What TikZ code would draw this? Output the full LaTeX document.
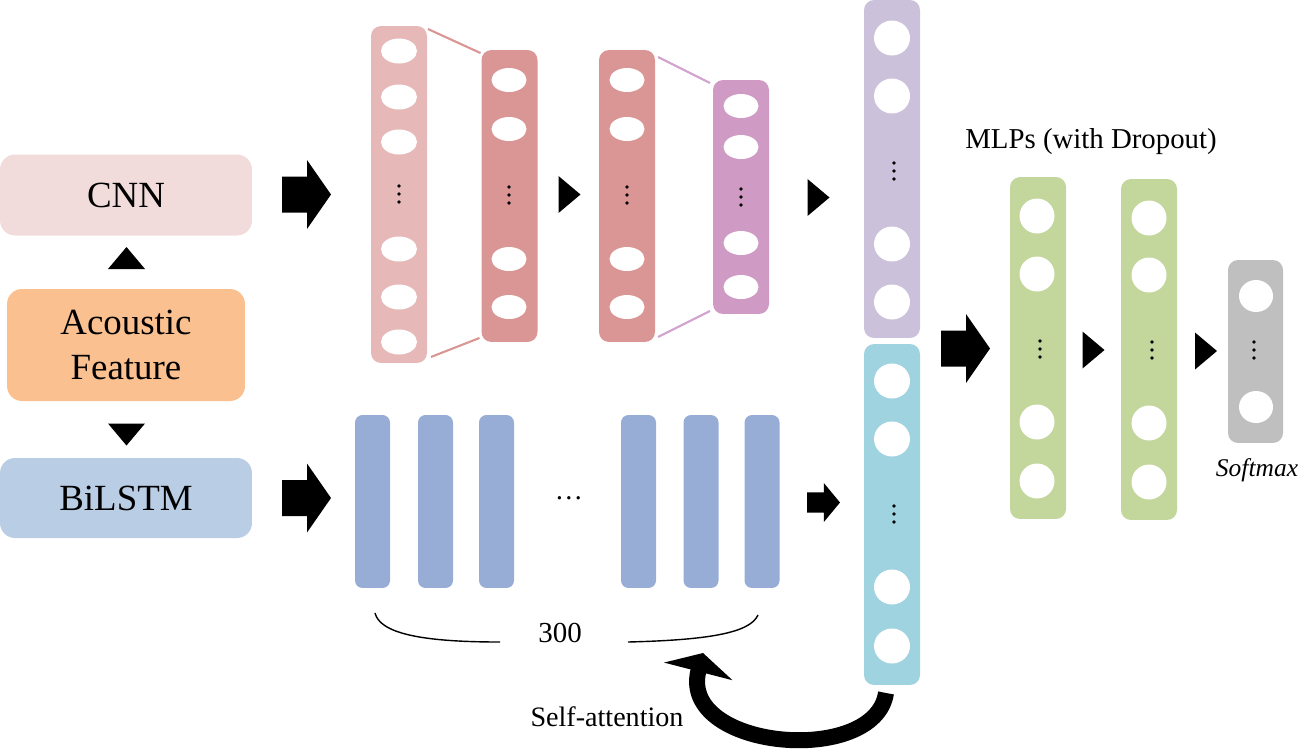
\documentclass[tikz,border=0pt]{standalone}
\usepackage{fontspec}
\setmainfont{Liberation Serif}
\usetikzlibrary{calc,positioning,arrows.meta,shapes.geometric}

\definecolor{cnnbox}{HTML}{F2DCDB}
\definecolor{featbox}{HTML}{FAC090}
\definecolor{lstmbox}{HTML}{B9CDE5}
\definecolor{convA}{HTML}{E6B9B8}
\definecolor{convB}{HTML}{D99694}
\definecolor{convC}{HTML}{CF9BC4}
\definecolor{linkC}{HTML}{D3A3CF}
\definecolor{catA}{HTML}{CCC1DA}
\definecolor{catB}{HTML}{A0D3E0}
\definecolor{lstmbar}{HTML}{97ADD6}
\definecolor{mlpbox}{HTML}{C3D69B}
\definecolor{smbox}{HTML}{BFBFBF}

\tikzset{
	pics/bigarrow/.style={code={\fill (-24.5,-18) -- (0.5,-18) -- (0.5,-34.5) -- (24.5,0) -- (0.5,34.5) -- (0.5,18) -- (-24.5,18) -- cycle;}},
	pics/tri/.style={code={\fill (-11,-18.5) -- (11,0) -- (-11,18.5) -- cycle;}},
	pics/vdots/.style={code={\foreach \k in {-1,0,1} \fill (0,8*\k) circle (1.05pt);}}
}

\begin{document}
\begin{tikzpicture}[x=0.02cm,y=-0.02cm,
	inbox/.style={rounded corners=0.3cm,inner sep=0pt,outer sep=0pt,align=center,font=\fontsize{21}{25.6}\selectfont},
	layer/.style={rounded corners=0.2cm,inner sep=0pt,outer sep=0pt,minimum width=1.12cm},
	unit/.style={ellipse,fill=white,inner sep=0pt,minimum width=0.72cm,minimum height=0.5cm},
	neuron/.style={ellipse,fill=white,inner sep=0pt,minimum width=0.72cm,minimum height=0.7cm},
	bar/.style={rounded corners=0.15cm,fill=lstmbar,inner sep=0pt,minimum width=0.7cm,minimum height=3.46cm}]
	\useasboundingbox (0,0) rectangle (1314,748);

	% input side
	\node[inbox,fill=cnnbox,minimum width=5.04cm,minimum height=1.62cm] (cnn) at (126,195) {CNN};
	\node[inbox,fill=featbox,minimum width=4.76cm,minimum height=2.24cm] (feat) at (126,345) {Acoustic\\Feature};
	\node[inbox,fill=lstmbox,minimum width=5.04cm,minimum height=1.6cm] (lstm) at (126,498) {BiLSTM};
	\pic[rotate=90] at (126.5,258) {tri};
	\pic[rotate=-90] at (126.5,434.5) {tri};
	\pic at (306.5,194.5) {bigarrow};
	\pic at (306.5,498) {bigarrow};

	% CNN layers
	\node[layer,fill=convA,minimum height=6.74cm] (l1) at (399,194.5) {};
	\node[layer,fill=convB,minimum height=5.84cm] (l2) at (509.5,196) {};
	\node[layer,fill=convB,minimum height=5.84cm] (l3) at (627,196) {};
	\node[layer,fill=convC,minimum height=4.68cm] (l4) at (741,197) {};
	\foreach \y [count=\i] in {51,97,142,249,297,342}
		\node[unit] (l1u\i) at (399,\y) {};
	\foreach \y [count=\i] in {80,129,259,307}
		\node[unit,minimum width=0.7cm,minimum height=0.48cm] (l2u\i) at (509,\y) {};
	\foreach \y [count=\i] in {80,129,259,307}
		\node[unit,minimum width=0.7cm,minimum height=0.48cm] (l3u\i) at (627,\y) {};
	\foreach \y [count=\i] in {106,147,243,287}
		\node[unit,minimum width=0.7cm,minimum height=0.48cm] (l4u\i) at (741,\y) {};
	\pic at (399,194) {vdots};
	\pic at (509,195) {vdots};
	\pic at (627,195) {vdots};
	\pic at (741,197) {vdots};
	\draw[convB,line width=1.2pt] ($(l1.north east)+(1,3)$) -- ($(l2.north west)+(-1,3)$);
	\draw[convB,line width=1.2pt] ($(l1.south east)+(4,-6)$) -- ($(l2.south west)+(-2,-4)$);
	\draw[linkC,line width=1.2pt] ($(l3.north east)+(3,7)$) -- ($(l4.north west)+(-3,3)$);
	\draw[linkC,line width=1.2pt] ($(l3.south east)+(3,-5)$) -- ($(l4.south west)+(-3,-3)$);
	\pic at (569.5,194.5) {tri};
	\pic at (818.5,197.5) {tri};

	% BiLSTM steps
	\foreach \x [count=\i] in {372.5,435.5,496.5,638.5,701,762}
		\node[bar] (b\i) at (\x,501.5) {};
	\node[font=\fontsize{16}{18}\selectfont] (gap) at (569,498) {\ldots};
	\pic[xscale=0.673,yscale=0.565] at (823.5,502.5) {bigarrow};
	\node[font=\fontsize{16.5}{18}\selectfont] (n300) at (560,633) {300};
	\coordinate (braceL) at (375,613);
	\coordinate (braceLm) at (500,642);
	\coordinate (braceRm) at (628,642);
	\coordinate (braceR) at (758,615);
	\draw[line width=0.8pt] (braceL) .. controls +(5,20) and +(-80,0) .. (braceLm);
	\draw[line width=0.8pt] (braceRm) .. controls +(80,-2) and +(-8,18) .. (braceR);

	% concatenated vector
	\node[layer,fill=catA,minimum height=6.76cm] (cat1) at (892,169) {};
	\node[layer,fill=catB,minimum height=6.82cm] (cat2) at (892,514.5) {};
	\foreach \y [count=\i] in {38,96,244,302}
		\node[neuron] (c1u\i) at (892,\y) {};
	\foreach \y [count=\i] in {381,439,587,646}
		\node[neuron] (c2u\i) at (892,\y) {};
	\pic at (894,171) {vdots};
	\pic at (894,514) {vdots};

	% self-attention
	\coordinate (attnstart) at ($(cat2.south)+(-6,8)$);
	\coordinate (attnend) at (703,653);
	\draw[line width=0.32cm,-{Triangle[length=0.38cm,width=1.4cm]}] (attnstart) .. controls +(-11,74) and +(-25,97) .. (attnend);
	\node[font=\fontsize{16}{18}\selectfont] (attn) at (607,717) {Self-attention};

	% MLPs and softmax
	\pic at (965.5,348.5) {bigarrow};
	\node[font=\fontsize{16.4}{18}\selectfont] (mlptitle) at (1091,142) {MLPs (with Dropout)};
	\node[layer,fill=mlpbox,minimum height=6.84cm] (m1) at (1038,348) {};
	\node[layer,fill=mlpbox,minimum height=6.82cm] (m2) at (1149,349.5) {};
	\node[layer,fill=smbox,minimum width=1.1cm,minimum height=3.66cm] (sm) at (1255.5,351.5) {};
	\foreach \y [count=\i] in {216,274,422,481}
		\node[neuron,minimum width=0.7cm] (m1u\i) at (1037,\y) {};
	\foreach \y [count=\i] in {218,275,423,482}
		\node[neuron,minimum width=0.7cm] (m2u\i) at (1149,\y) {};
	\foreach \y [count=\i] in {296,407}
		\node[neuron,minimum width=0.68cm,minimum height=0.64cm] (smu\i) at (1256,\y) {};
	\pic at (1040,349) {vdots};
	\pic at (1152,350) {vdots};
	\pic at (1254,350) {vdots};
	\pic at (1093.5,350) {tri};
	\pic at (1206,351) {tri};
	\node[font=\fontsize{14.5}{16}\selectfont\itshape] (smlabel) at (1257,470) {Softmax};
\end{tikzpicture}
\end{document}
